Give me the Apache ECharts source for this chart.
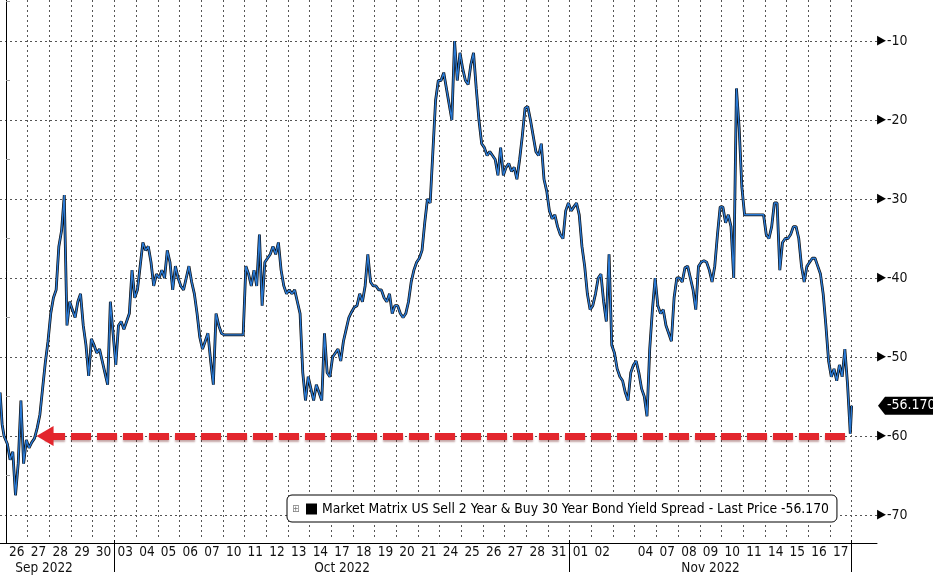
<!DOCTYPE html>
<html><head><meta charset="utf-8">
<script src="https://cdn.jsdelivr.net/npm/echarts@6/dist/echarts.min.js"></script>
<style>html,body{margin:0;padding:0;background:#fff}#c{width:933px;height:575px}</style>
</head><body><div id="c"></div>
<script>
const FONT = '"DejaVu Sans Condensed", "DejaVu Sans", sans-serif';

// ---- Data ----
const seriesName = 'Market Matrix US Sell 2 Year & Buy 30 Year Bond Yield Spread';
const lastPrice = -56.17;
const lastPriceLabel = '-56.170';

const dayLabels = ['26','27','28','29','30',
  '03','04','05','06','07','10','11','12','13','14','17','18','19','20','21','24','25','26','27','28','31',
  '01','02','03','04','07','08','09','10','11','14','15','16','17'];
const monthLabels = ['Sep 2022', 'Oct 2022', 'Nov 2022'];
const monthDayCounts = [5, 21, 13];
const yTickValues = [-10, -20, -30, -40, -50, -60, -70];

// tail of Sep 23 session visible at the left edge
const sep23 = [-54.5, -58.5, -60];

const sepDays = [
  [-61, -63, -62, -67.5, -63.5, -55.5, -63.5, -60.5],
  [-61.5, -60.8, -60.3, -59, -57.3, -54, -50.7, -48],
  [-44.5, -42.5, -41.5, -36, -34, -29.5, -46, -43],
  [-44, -45, -43, -42, -46, -48.5, -52.4, -47.7],
  [-48.5, -49.5, -49, -50.5, -52, -53.5, -43, -47]
];
const octDays = [
  [-51, -46, -45.5, -46.5, -45.5, -44.5, -39, -42.5],
  [-41.5, -38.5, -35.5, -36.5, -36, -38, -41, -39.5],
  [-40, -39, -40, -36.5, -38, -41.5, -38.5, -40],
  [-41, -41.5, -40, -38.5, -40.5, -42, -44.5, -47.5],
  [-49, -48, -47, -50.5, -53.5, -44.5, -46, -47],
  [-47.2, -47.2, -47.2, -47.2, -47.2, -47.2, -47.2, -47.2],
  [-38.5, -39.5, -41, -39, -41, -34.5, -43.5, -38],
  [-37.5, -37, -36, -37, -35.5, -39, -41, -42],
  [-41.5, -42, -41.5, -43, -44.5, -52, -55.5, -52.5],
  [-54, -55.5, -53.5, -54.5, -55.5, -47, -52, -52.5],
  [-50, -49.5, -49, -50.5, -48, -46.5, -45, -44.3],
  [-43.7, -43.5, -42, -43, -41, -37, -40.5, -41],
  [-41, -41.5, -41.5, -42.5, -43, -42, -44.5, -43.5],
  [-43.5, -44.5, -45, -44.5, -43, -40.5, -39, -38],
  [-37.5, -36.5, -33, -30, -30.5, -24, -17.5, -15],
  [-15, -14, -16, -18, -20, -10, -15, -11.5],
  [-13.5, -15, -15.5, -13, -11.5, -16, -20, -23],
  [-23.5, -24.5, -24, -24.5, -25, -27, -23.5, -27],
  [-26, -25.5, -26.5, -26, -27.5, -25, -22, -18.5],
  [-18.3, -20, -22, -24, -24.5, -23, -27.5, -29],
  [-31.5, -32.5, -32, -33.5, -34.5, -35, -31.5, -30.5]
];
const novDays = [
  [-31.5, -31, -30.5, -32, -36, -38.5, -42, -44],
  [-43.5, -42, -40, -39.5, -43, -45.5, -37, -48.5],
  [-49.5, -51.5, -52.5, -53, -54.5, -55.5, -52, -51],
  [-50.5, -52, -54, -55, -57.5, -49, -44, -40],
  [-43.5, -44.5, -44, -46, -47, -48, -42.5, -40],
  [-40, -40.5, -38.7, -38.5, -40, -41.5, -44, -38.5],
  [-38, -37.8, -38, -39, -40.5, -38.5, -34.5, -31],
  [-31, -33, -32, -33.5, -40, -16, -21, -28.5],
  [-32, -32, -32, -32, -32, -32, -32, -32],
  [-34.5, -35, -33.5, -30.5, -30.5, -39, -35.5, -35],
  [-35, -34.5, -33.5, -33.5, -35, -38.5, -40.5, -38.5],
  [-38, -37.5, -37.5, -38.5, -39.5, -42, -46, -50.5],
  [-52.5, -51.5, -53, -51, -52.5, -49, -53.5, -59.7]
];

// red dashed "low" marker (in day units along the x axis)
const lowLevel = -60;
const lowFromDay = 1.8;
const lowToDay = 38.85;

// ---- Build ----
const allDays = sepDays.concat(octDays, novDays);
const points = [];
sep23.forEach((v, i) => points.push([-0.27 + i * 0.09, v]));
allDays.forEach((arr, k) => arr.forEach((v, j) => points.push([k + (j + 0.5) / arr.length, v])));
points.push([allDays.length, lastPrice]);

const monthStarts = [];
const monthMid = {};
let acc = 0;
monthDayCounts.forEach((n, m) => {
  monthStarts.push(acc);
  // first month is only partly shown: its label sits left of centre
  const mid = m === 0 ? acc + 1 : acc + Math.floor(n / 2);
  monthMid[mid] = m === 0 ? '{sep|' + monthLabels[m] + '}' : monthLabels[m];
  acc += n;
});
const hiddenDayIdx = [28];

const chart = echarts.init(document.getElementById('c'), null, {renderer: 'canvas'});
const dayW = 21.68;
const grid1Right = 933 - (6 + dayW * allDays.length);

const option = {
  animation: false,
  backgroundColor: '#fff',
  textStyle: {fontFamily: FONT},
  grid: [{left: 0, right: 56, top: 0, bottom: 32}, {left: 6, right: grid1Right, top: 0, bottom: 32}],
  legend: {
    data: [{name: seriesName, icon: 'rect'}],
    left: 287, top: 495,
    padding: [7, 8, 6, 19],
    backgroundColor: '#fff', borderColor: '#000', borderWidth: 1, borderRadius: 5,
    itemWidth: 11, itemHeight: 11, itemGap: 5,
    selectedMode: false,
    textStyle: {fontFamily: FONT, fontSize: 13.8, color: '#000'},
    formatter: n => n + ' - Last Price ' + lastPriceLabel
  },
  xAxis: [
    {type: 'value', gridIndex: 0, min: -0.277, max: 40.17,
     axisLine: {show: true, onZero: false, lineStyle: {color: '#000', width: 1}},
     axisTick: {show: false}, axisLabel: {show: false}, splitLine: {show: false}},
    {type: 'category', gridIndex: 1, data: dayLabels, boundaryGap: true, position: 'bottom',
     axisLine: {show: false},
     axisTick: {show: true, interval: i => monthStarts.includes(i) && i > 0, length: 32, lineStyle: {color: '#000', width: 1}},
     axisLabel: {interval: 0, margin: 5, fontSize: 13.5, color: '#111', fontFamily: FONT,
       formatter: (v, i) => hiddenDayIdx.includes(i) ? '' : v},
     splitLine: {show: true, interval: 0, lineStyle: {type: [2, 3], color: '#555', width: 1}}},
    {type: 'category', gridIndex: 1, data: dayLabels, boundaryGap: true, position: 'bottom', offset: 16,
     axisLine: {show: false}, axisTick: {show: false}, splitLine: {show: false},
     axisLabel: {interval: 0, margin: 5, fontSize: 13.5, color: '#111', fontFamily: FONT,
       formatter: (v, i) => monthMid[i] || '',
       rich: {sep: {fontSize: 13.5, color: '#111', fontFamily: FONT, padding: [0, 0, 0, 11]}}}}
  ],
  yAxis: [
    {type: 'value', gridIndex: 0, position: 'right', min: -73.54, max: -4.81, splitNumber: 7,
     axisLine: {show: true, lineStyle: {color: '#000', width: 1}},
     axisTick: {show: false},
     minorTick: {show: true, splitNumber: 2, length: 4, lineStyle: {color: '#999'}},
     axisLabel: {margin: 0, fontSize: 14, color: '#111', fontFamily: FONT,
       formatter: v => yTickValues.some(t => Math.abs(t - v) < 1e-6) ? '{t|▶}' + v : '',
       rich: {t: {fontSize: 13, color: '#000', padding: [0, 1, 0, 0]}}},
     splitLine: {show: true, showMinLine: false, showMaxLine: false, lineStyle: {type: [2, 3], color: '#555', width: 1}}},
    {type: 'value', gridIndex: 1, show: false, min: 0, max: 1}
  ],
  series: [
    {type: 'line', name: seriesName, xAxisIndex: 0, yAxisIndex: 0, data: points,
     symbol: 'none', showSymbol: false, z: 2,
     itemStyle: {color: '#000'}, lineStyle: {color: '#0d0d0d', width: 2.8}},
    {type: 'line', name: 'spread-blue', xAxisIndex: 0, yAxisIndex: 0, data: points,
     symbol: 'none', showSymbol: false, z: 3,
     itemStyle: {color: '#2a7ad5'}, lineStyle: {color: '#2a7ad5', width: 1.4},
     markLine: {
       silent: true, animation: false, symbol: ['none', 'none'],
       label: {show: false},
       lineStyle: {color: '#e3262d', width: 7, type: [20, 6],
         shadowColor: 'rgba(90,0,0,0.35)', shadowBlur: 2, shadowOffsetY: 2},
       data: [
         [{coord: [lowFromDay, lowLevel], symbol: 'triangle', symbolSize: [20, 17]},
          {coord: [lowToDay, lowLevel], symbol: 'none'}]
       ]
     }}
  ]
};
chart.setOption(option);

// last-price tag on the right axis, positioned via the y scale
const tagY = chart.convertToPixel({yAxisIndex: 0}, lastPrice);
const axisX = 933 - 56;
chart.setOption({
  graphic: [
    {type: 'text', left: 292, top: 504, z: 100, silent: true,
     style: {text: '⊞', fontSize: 10, fill: '#777', fontFamily: FONT}},
    {type: 'polygon', z: 100, silent: true,
     shape: {points: [[axisX + 1, tagY], [axisX + 8, tagY - 9], [933, tagY - 9], [933, tagY + 9], [axisX + 8, tagY + 9]]},
     style: {fill: '#000'}},
    {type: 'text', z: 101, silent: true, x: axisX + 10, y: tagY,
     style: {text: lastPriceLabel, fill: '#fff', fontSize: 14, fontFamily: FONT, verticalAlign: 'middle'}}
  ]
});
</script>
</body></html>
